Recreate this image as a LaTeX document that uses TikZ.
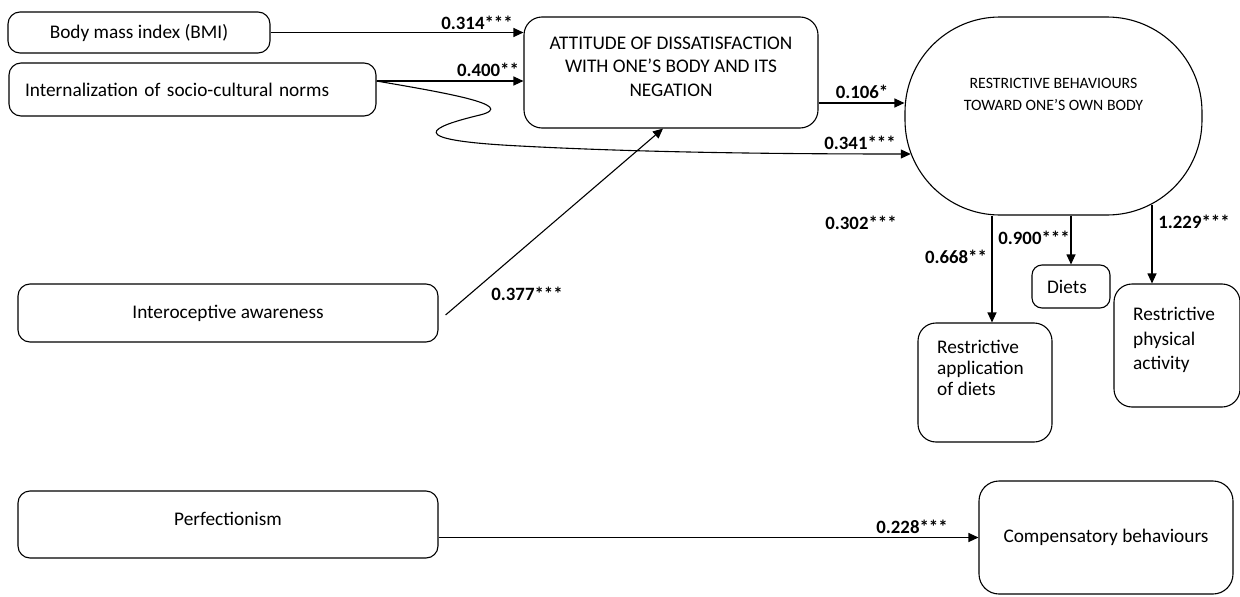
\documentclass[tikz,border=0pt]{standalone}
\usepackage{fontspec}
\setmainfont{Carlito}
\usetikzlibrary{arrows.meta,calc}
\begin{document}
\begin{tikzpicture}[x=1pt,y=-1pt,
  box/.style={draw, line width=1.1pt, rounded corners=12pt, inner sep=0pt,
     font=\fontsize{19.3}{23.5}\selectfont},
  txt/.style={inner sep=0pt, font=\fontsize{19.3}{23.5}\selectfont},
  lab/.style={inner sep=0pt, font=\fontsize{18.8}{22}\selectfont\bfseries},
  arr/.style={line width=1.1pt, -{Triangle[length=10pt,width=9pt]}},
  ]
\useasboundingbox (0,0) rectangle (1240,597);
\fill[white] (0,0) rectangle (1240,597);

% boxes
\node[box, minimum width=262pt, minimum height=41pt] (bmi) at (139,32.5) {Body mass index (BMI)};
\node[box, minimum width=367pt, minimum height=53pt, text width=335pt, align=left] (intn) at (192.5,89.5) {Internalization of socio-cultural norms};
\node[box, rounded corners=18pt, minimum width=294pt, minimum height=111pt] (att) at (671,72.5) {};
\node[txt, align=center] (attT) at (671,66.5) {ATTITUDE OF DISSATISFACTION\\WITH ONE’S BODY AND ITS\\NEGATION};
\node[box, rounded corners=95pt, minimum width=297pt, minimum height=198pt] (rb) at (1053.5,116) {};
\node[inner sep=0pt, align=center, font=\fontsize{15.8}{22}\selectfont] (rbT) at (1053.5,94) {RESTRICTIVE BEHAVIOURS\\TOWARD ONE’S OWN BODY};
\node[box, rounded corners=18pt, minimum width=134pt, minimum height=119pt] (app) at (985,382.5) {};
\node[txt, anchor=west, align=left, font=\fontsize{19.3}{21}\selectfont] (appT) at (937,368) {Restrictive\\application\\of diets};
\node[box, rounded corners=10pt, minimum width=78pt, minimum height=43pt, text width=48pt, align=left] (diets) at (1071,286.5) {Diets};
\node[box, rounded corners=18pt, minimum width=126pt, minimum height=123pt] (phys) at (1177,345.5) {};
\node[txt, anchor=west, align=left, font=\fontsize{19.3}{24.5}\selectfont] (physT) at (1133,340.3) {Restrictive\\physical\\activity};
\node[box, minimum width=420pt, minimum height=58pt] (intero) at (228,313) {Interoceptive awareness};
\node[box, minimum width=420pt, minimum height=67pt, text depth=11pt] (perf) at (228,524.5) {Perfectionism};
\node[box, rounded corners=20pt, minimum width=254pt, minimum height=113pt] (comp) at (1106,537.5) {Compensatory behaviours};

% connectors
\draw[arr] (bmi.east) -- (bmi.east -| att.west);
\coordinate (i1) at ($(intn.east)+(0,-8.5)$);
\draw[arr] (i1) -- (i1 -| att.west);
\coordinate (rbin) at ($(rb.west)+(6.3,38)$);
\draw[arr] (i1) .. controls (440,92) and (520,105) .. (480,115)
   .. controls (430,127) and (400,140) .. (520,146)
   .. controls (650,153) and (800,154) .. (rbin);
\coordinate (a1) at ($(att.east)+(0,30.5)$);
\draw[arr] (a1) -- (a1 -| rb.west);
\draw[arr] ($(intero.east)+(7,2)$) -- ($(att.south)+(-8,0)$);
\draw[arr] ($(app.north |- rb.south)+(7,0)$) -- ($(app.north)+(7,0)$);
\draw[arr] (diets.north |- rb.south) -- (diets.north);
\draw[arr] ($(phys.north |- rb.south)+(-25,-11)$) -- ($(phys.north)+(-25,0)$);
\draw[arr] (perf.east |- comp.west) -- (comp.west);

% labels
\node[lab] (l314) at (477,23) {0.314***};
\node[lab] (l400) at (488,70) {0.400**};
\node[lab] (l106) at (862,92) {0.106*};
\node[lab] (l341) at (860,143) {0.341***};
\node[lab] (l302) at (861,223) {0.302***};
\node[lab] (l900) at (1034,238) {0.900***};
\node[lab] (l668) at (956,257) {0.668**};
\node[lab] (l1229) at (1194,222) {1.229***};
\node[lab] (l377) at (527,294) {0.377***};
\node[lab] (l228) at (912,527) {0.228***};
\end{tikzpicture}
\end{document}
